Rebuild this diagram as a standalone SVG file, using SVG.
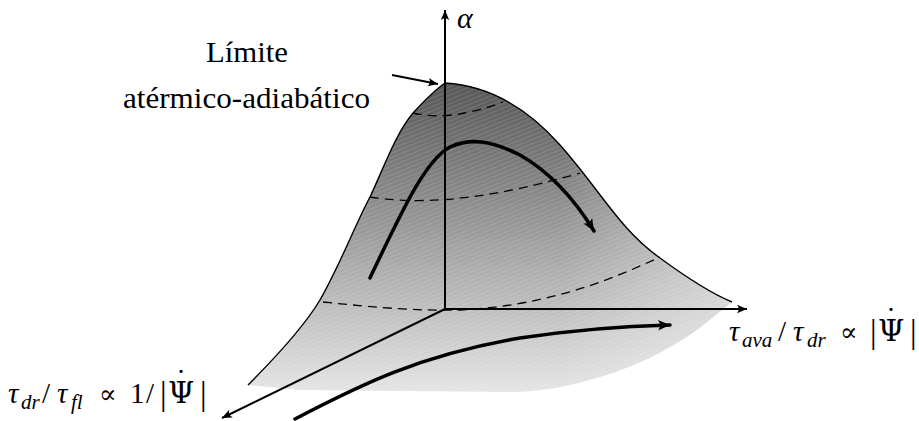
<svg xmlns="http://www.w3.org/2000/svg" width="919" height="421" viewBox="0 0 919 421">
<style>
text{font-family:"Liberation Serif","Times New Roman","DejaVu Serif",serif;fill:#000}
.it{font-style:italic}
.sym{font-family:"DejaVu Serif",serif}
.dash{fill:none;stroke:#000;stroke-width:1.3;stroke-dasharray:9 6}
.ax{fill:none;stroke:#000;stroke-width:2}
.bold{fill:none;stroke:#000;stroke-width:3.5;stroke-linecap:round}
</style>
<defs>
<linearGradient id="g" gradientUnits="userSpaceOnUse" x1="0" y1="83" x2="0" y2="395">
<stop offset="0" stop-color="#555"/>
<stop offset="0.38" stop-color="#8c8c8c"/>
<stop offset="0.7" stop-color="#bbb"/>
<stop offset="1" stop-color="#e6e6e6"/>
</linearGradient>
<linearGradient id="fadeR" gradientUnits="userSpaceOnUse" x1="560" y1="0" x2="735" y2="0">
<stop offset="0" stop-color="#fff" stop-opacity="0"/>
<stop offset="1" stop-color="#fff" stop-opacity="0.45"/>
</linearGradient>
<pattern id="hatch" patternUnits="userSpaceOnUse" width="4" height="4" patternTransform="rotate(-22)">
<rect x="0" y="0" width="4" height="1.3" fill="#fff" fill-opacity="0.12"/>
</pattern>
<marker id="ah" viewBox="-11 -5 12 10" refX="0" refY="0" markerWidth="12" markerHeight="10" markerUnits="userSpaceOnUse" orient="auto">
<path d="M0,0 L-10,-4.2 Q-6.5,0 -10,4.2 Z" fill="#000"/>
</marker>
<marker id="ahb" viewBox="-13 -6 14 12" refX="0" refY="0" markerWidth="14" markerHeight="12" markerUnits="userSpaceOnUse" orient="auto">
<path d="M0,0 L-12,-5.2 Q-8,0 -12,5.2 Z" fill="#000"/>
</marker>
</defs>

<g id="surface">
<path id="surface-fill" d="M445,83 C480,85 520,100 560,145 C600,190 620,230 660,258 C690,280 715,295 732,302 L712,318 C680,345 640,365 600,377 C570,386 540,392 510,392 L300,390 L248,385 C275,358 305,325 320,300 C340,265 355,225 370,197 C385,165 395,135 413,113 C425,100 435,90 445,83 Z" fill="url(#g)"/>
<path d="M445,83 C480,85 520,100 560,145 C600,190 620,230 660,258 C690,280 715,295 732,302 L712,318 C680,345 640,365 600,377 C570,386 540,392 510,392 L300,390 L248,385 C275,358 305,325 320,300 C340,265 355,225 370,197 C385,165 395,135 413,113 C425,100 435,90 445,83 Z" fill="url(#fadeR)"/>
<path d="M445,83 C480,85 520,100 560,145 C600,190 620,230 660,258 C690,280 715,295 732,302 L712,318 C680,345 640,365 600,377 C570,386 540,392 510,392 L300,390 L248,385 C275,358 305,325 320,300 C340,265 355,225 370,197 C385,165 395,135 413,113 C425,100 435,90 445,83 Z" fill="url(#hatch)"/>
<path id="surface-outline" d="M248,385 C275,358 305,325 320,300 C340,265 355,225 370,197 C385,165 395,135 413,113 C425,100 435,90 445,83 C480,85 520,100 560,145 C600,190 620,230 660,258 C690,280 715,295 732,302" fill="none" stroke="#000" stroke-width="1.4"/>
</g>

<g id="contours">
<path class="dash" d="M413,113 Q450,122 503,102"/>
<path class="dash" d="M370,197 C410,203 470,205 580,173"/>
<path class="dash" d="M323,302 C380,308 420,311 460,310 C540,306 600,285 660,257"/>
</g>

<g id="connectors">
<path class="ax" d="M445,310 L445,10" marker-end="url(#ah)"/>
<path class="ax" d="M444,309 L747,309" marker-end="url(#ah)"/>
<path class="ax" d="M445,309 L222,418" stroke-width="1.6" marker-end="url(#ah)"/>
<path class="ax" d="M392,75 L438,84" marker-end="url(#ah)"/>
<path class="bold" d="M370,278 C400,215 425,160 450,147 C470,138 490,140 520,155 C555,175 578,205 594,231" marker-end="url(#ahb)"/>
<path class="bold" d="M295,419 C360,385 420,355 520,338 C580,329 630,326 670,325" marker-end="url(#ahb)"/>
</g>

<g id="label-limite">
<text x="206" y="62" font-size="29" textLength="82" lengthAdjust="spacingAndGlyphs">Límite</text>
<text x="123" y="108" font-size="29" textLength="247" lengthAdjust="spacingAndGlyphs">atérmico-adiabático</text>
</g>

<g id="label-alpha">
<text class="it" x="457" y="28" font-size="30">α</text>
</g>

<g id="label-right">
<text font-size="29"><tspan x="729" y="341" class="it">τ</tspan><tspan x="742" y="347" class="it" font-size="21">ava</tspan><tspan x="778" y="341">/</tspan><tspan x="793" y="341" class="it">τ</tspan><tspan x="807" y="347" class="it" font-size="21">dr</tspan><tspan x="840" y="341" class="sym" font-size="26">∝</tspan><tspan x="870" y="343" font-size="33">|</tspan><tspan x="878" y="341" class="sym" font-size="30">Ψ</tspan><tspan x="884" y="329" class="sym" font-size="28">˙</tspan><tspan x="910" y="343" font-size="33">|</tspan></text>
</g>

<g id="label-left">
<text font-size="29"><tspan x="8" y="403" class="it">τ</tspan><tspan x="21" y="409" class="it" font-size="21">dr</tspan><tspan x="42" y="403">/</tspan><tspan x="57" y="403" class="it">τ</tspan><tspan x="71" y="409" class="it" font-size="21">fl</tspan><tspan x="99" y="403" class="sym" font-size="26">∝</tspan><tspan x="130" y="403">1</tspan><tspan x="146" y="403">/</tspan><tspan x="160" y="405" font-size="33">|</tspan><tspan x="168" y="403" class="sym" font-size="30">Ψ</tspan><tspan x="174" y="391" class="sym" font-size="28">˙</tspan><tspan x="200" y="405" font-size="33">|</tspan></text>
</g>
</svg>
